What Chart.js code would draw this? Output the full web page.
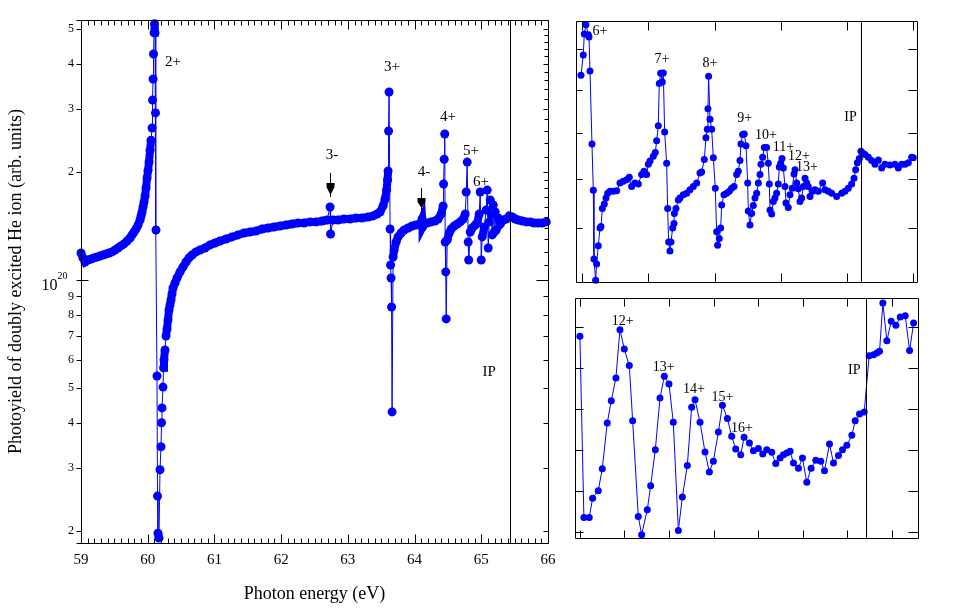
<!DOCTYPE html>
<html>
<head>
<meta charset="utf-8">
<script src="https://cdn.jsdelivr.net/npm/chart.js@4.4.1/dist/chart.umd.min.js"></script>
<style>
body { margin: 0; background: #fff; width: 958px; height: 609px; position: relative; overflow: hidden; }
canvas { position: absolute; }
</style>
</head>
<body>
<canvas id="main" width="570" height="609" style="left:0px;top:0px"></canvas>
<canvas id="upper" width="361" height="281" style="left:566px;top:11px"></canvas>
<canvas id="lower" width="363" height="260" style="left:565px;top:288px"></canvas>
<script>
// main panel: photon energy (eV) vs yield (units of 1e20)
const mainEnergy = [
  59.000,59.030,59.060,59.105,59.150,59.195,59.240,59.285,59.330,59.375,
  59.420,59.465,59.510,59.555,59.600,59.645,59.690,59.735,59.765,59.795,
  59.825,59.855,59.885,59.900,59.915,59.930,59.945,59.960,59.975,59.990,
  60.005,60.020,60.035,60.050,60.065,60.072,60.080,60.087,60.095,60.102,
  60.110,60.117,60.124,60.139,60.147,60.154,60.169,60.184,60.199,60.207,
  60.214,60.229,60.237,60.244,60.259,60.274,60.289,60.304,60.319,60.334,
  60.349,60.364,60.379,60.409,60.439,60.484,60.529,60.574,60.619,60.664,
  60.724,60.784,60.859,60.934,61.009,61.084,61.174,61.264,61.354,61.444,
  61.534,61.624,61.714,61.804,61.894,61.984,62.074,62.164,62.254,62.344,
  62.434,62.524,62.614,62.689,62.733,62.741,62.779,62.854,62.943,63.033,
  63.123,63.213,63.303,63.378,63.438,63.483,63.528,63.558,63.580,63.595,
  63.603,63.610,63.618,63.633,63.640,63.648,63.655,63.663,63.678,63.693,
  63.723,63.753,63.798,63.843,63.903,63.963,64.023,64.083,64.113,64.120,
  64.143,64.188,64.248,64.308,64.353,64.398,64.428,64.435,64.444,64.452,
  64.459,64.467,64.474,64.489,64.519,64.549,64.594,64.639,64.684,64.729,
  64.759,64.774,64.789,64.804,64.811,64.834,64.864,64.909,64.939,64.969,
  64.984,64.999,65.014,65.044,65.074,65.089,65.104,65.119,65.134,65.149,
  65.164,65.179,65.194,65.209,65.224,65.254,65.284,65.329,65.374,65.419,
  65.464,65.509,65.554,65.614,65.674,65.734,65.794,65.854,65.914,65.974
];
const mainYield = [
  1.189,1.152,1.122,1.137,1.144,1.152,1.159,1.166,1.174,1.181,
  1.189,1.197,1.212,1.228,1.244,1.260,1.284,1.309,1.335,1.360,
  1.387,1.423,1.469,1.508,1.547,1.597,1.649,1.714,1.805,1.924,
  2.02,2.132,2.30,2.45,2.65,3.17,3.63,4.26,4.88,5.17,
  4.88,2.92,1.378,0.540,0.250,0.197,0.191,0.296,0.343,0.400,
  0.440,0.503,0.569,0.599,0.638,0.698,0.730,0.774,0.825,0.852,
  0.880,0.914,0.950,0.981,1.013,1.053,1.087,1.122,1.152,1.174,
  1.197,1.212,1.228,1.252,1.268,1.284,1.301,1.318,1.335,1.352,
  1.360,1.369,1.387,1.396,1.405,1.414,1.423,1.432,1.441,1.441,
  1.451,1.451,1.460,1.469,1.597,1.343,1.469,1.469,1.479,1.479,
  1.488,1.488,1.498,1.508,1.527,1.547,1.608,1.681,1.780,1.900,
  2.012,2.60,3.34,1.387,1.101,1.013,0.841,0.429,1.159,1.212,
  1.276,1.318,1.352,1.378,1.396,1.414,1.423,1.432,1.479,1.405,
  1.432,1.441,1.451,1.460,1.479,1.527,1.608,1.851,2.17,2.55,
  1.276,1.053,0.779,1.292,1.352,1.387,1.414,1.432,1.451,1.479,
  1.527,1.758,2.13,1.276,1.137,1.360,1.396,1.423,1.441,1.527,
  1.758,1.137,1.318,1.405,1.567,1.780,1.228,1.451,1.670,1.527,
  1.335,1.618,1.360,1.547,1.378,1.488,1.432,1.469,1.479,1.508,
  1.498,1.479,1.469,1.460,1.451,1.451,1.441,1.441,1.441,1.451
];

// upper right inset (6+ ... 13+)
const upperEnergy = [
  64.9985,65.0020,65.0035,65.0060,65.0095,65.0106,65.0121,65.0151,65.0171,65.0181,
  65.0206,65.0221,65.0246,65.0272,65.0287,65.0307,65.0337,65.0362,65.0387,65.0422,
  65.0473,65.0523,65.0573,65.0623,65.0674,65.0714,65.0749,65.0799,65.0850,65.0900,
  65.0935,65.0975,65.1001,65.1026,65.1076,65.1106,65.1126,65.1151,65.1166,65.1187,
  65.1212,65.1227,65.1247,65.1277,65.1292,65.1307,65.1327,65.1342,65.1368,65.1388,
  65.1393,65.1418,65.1453,65.1478,65.1528,65.1579,65.1629,65.1679,65.1730,65.1780,
  65.1805,65.1845,65.1870,65.1890,65.1900,65.1910,65.1931,65.1956,65.1981,65.2011,
  65.2031,65.2046,65.2071,65.2092,65.2107,65.2142,65.2182,65.2222,65.2257,65.2293,
  65.2333,65.2358,65.2383,65.2398,65.2423,65.2448,65.2474,65.2499,65.2509,65.2534,
  65.2559,65.2584,65.2609,65.2635,65.2660,65.2685,65.2700,65.2725,65.2750,65.2785,
  65.2810,65.2826,65.2836,65.2861,65.2886,65.2911,65.2936,65.2961,65.2976,65.2997,
  65.3017,65.3037,65.3062,65.3077,65.3112,65.3137,65.3172,65.3198,65.3213,65.3238,
  65.3263,65.3288,65.3313,65.3338,65.3364,65.3389,65.3414,65.3439,65.3479,65.3514,
  65.3565,65.3630,65.3665,65.3715,65.3766,65.3841,65.3917,65.3967,65.4017,65.4067,
  65.4103,65.4128,65.4153,65.4183,65.4208,65.4233,65.4268,65.4319,65.4369,65.4419,
  65.4470,65.4520,65.4570,65.4646,65.4721,65.4771,65.4822,65.4872,65.4922,65.4972,
  65.4997
];
const upperYield = [
  1.635,1.686,1.740,1.764,1.738,1.732,1.646,1.475,1.376,1.241,
  1.202,1.232,1.266,1.300,1.303,1.339,1.348,1.360,1.370,1.374,
  1.374,1.375,1.391,1.395,1.398,1.403,1.384,1.391,1.389,1.409,
  1.416,1.409,1.431,1.438,1.448,1.456,1.482,1.516,1.615,1.640,
  1.619,1.641,1.502,1.433,1.339,1.273,1.256,1.273,1.300,1.309,
  1.329,1.339,1.356,1.360,1.367,1.370,1.377,1.384,1.391,1.412,
  1.414,1.441,1.489,1.508,1.555,1.633,1.531,1.508,1.445,1.380,
  1.293,1.267,1.280,1.300,1.346,1.367,1.370,1.374,1.380,1.384,
  1.409,1.416,1.439,1.475,1.496,1.497,1.471,1.391,1.334,1.306,
  1.329,1.345,1.360,1.370,1.391,1.409,1.431,1.446,1.467,1.467,
  1.433,1.389,1.336,1.328,1.353,1.360,1.370,1.389,1.425,1.433,
  1.443,1.423,1.384,1.350,1.341,1.367,1.380,1.410,1.419,1.391,
  1.379,1.353,1.360,1.384,1.401,1.391,1.384,1.363,1.374,1.377,
  1.374,1.391,1.377,1.374,1.370,1.363,1.370,1.374,1.380,1.389,
  1.401,1.419,1.434,1.443,1.459,1.455,1.452,1.446,1.439,1.431,
  1.440,1.423,1.431,1.429,1.431,1.423,1.431,1.431,1.434,1.446,
  1.445
];

// lower right inset (12+ ... 16+)
const lowerEnergy = [
  65.32000,65.32090,65.32210,65.32285,65.32412,65.32502,65.32614,65.32704,65.32809,65.32899,
  65.32996,65.33109,65.33184,65.33311,65.33386,65.33513,65.33588,65.33693,65.33798,65.33895,
  65.34000,65.34097,65.34210,65.34300,65.34412,65.34509,65.34584,65.34697,65.34809,65.34906,
  65.34996,65.35109,65.35199,65.35311,65.35408,65.35498,65.35610,65.35685,65.35805,65.35895,
  65.36007,65.36105,65.36195,65.36307,65.36397,65.36494,65.36569,65.36644,65.36719,65.36794,
  65.36906,65.36996,65.37094,65.37191,65.37296,65.37408,65.37491,65.37603,65.37693,65.37805,
  65.37895,65.37993,65.38105,65.38180,65.38277,65.38382,65.38494,65.38592,65.38667,
  65.38727,65.38801,65.38891,65.38989,65.39094,65.39191,65.39303,65.39401,65.39491
];
const lowerYield = [
  1.4555,1.3673,1.3673,1.3767,1.3803,1.3910,1.4133,1.4241,1.4352,1.4587,
  1.4493,1.4412,1.4144,1.3678,1.3589,1.3711,1.3827,1.4003,1.4254,1.4360,
  1.4322,1.4136,1.3610,1.3772,1.3926,1.4209,1.4246,1.4136,1.3991,1.3894,
  1.3946,1.4089,1.4219,1.4155,1.4068,1.4006,1.3978,1.4063,1.4035,1.3998,
  1.4008,1.3982,1.4003,1.3990,1.3935,1.3962,1.3978,1.3987,1.3995,1.3938,
  1.3913,1.3962,1.3844,1.3913,1.3951,1.3946,1.3900,1.4030,1.3938,1.3974,
  1.4003,1.4024,1.4073,1.4144,1.4176,1.4186,1.4460,1.4465,1.4473,
  1.4482,1.4717,1.4533,1.4628,1.4608,1.4649,1.4655,1.4485,1.4619
];

// tick values
const mainXTicks = [59, 60, 61, 62, 63, 64, 65, 66];
const mainYTicks = [0.2, 0.3, 0.4, 0.5, 0.6, 0.7, 0.8, 0.9, 1, 2, 3, 4, 5];
const mainYMinor = [1.1, 1.2, 1.3, 1.4, 1.5, 1.6, 1.7, 1.8, 1.9, 2.2, 2.4, 2.6, 2.8, 3.2, 3.4, 3.6, 3.8, 4.2, 4.4, 4.6, 4.8];
const upperXTicks = [65.0, 65.1, 65.2, 65.3, 65.4, 65.5];
const upperYTicks = [1.3, 1.4, 1.5, 1.6, 1.7];
const lowerXTicks = [65.32, 65.33, 65.34, 65.35, 65.36, 65.37, 65.38, 65.39];
const lowerYTicks = [1.36, 1.38, 1.40, 1.42, 1.44, 1.46];

// labels in data coordinates
const mainNotes = [['2+', 60.379, 4.05], ['3+', 63.663, 3.92], ['3-', 62.763, 2.23], ['4-', 64.142, 2.0],
  ['4+', 64.502, 2.845], ['5+', 64.847, 2.288], ['6+', 64.997, 1.875], ['IP', 65.117, 0.554]];
const mainArrows = [[62.733, 1.987, 1.863, 1.725, 1.703], [64.097, 1.805, 1.692, 1.587, 1.547]];
const upperNotes = [['6+', 65.0271, 1.746], ['7+', 65.1207, 1.676], ['8+', 65.1931, 1.666], ['9+', 65.2454, 1.532],
  ['10+', 65.2775, 1.495], ['11+', 65.3039, 1.468], ['12+', 65.3273, 1.447], ['13+', 65.3394, 1.424], ['IP', 65.405, 1.536]];
const lowerNotes = [['12+', 65.3296, 1.4626], ['13+', 65.3388, 1.4406], ['14+', 65.3456, 1.4296],
  ['15+', 65.3520, 1.4257], ['16+', 65.3564, 1.4107], ['IP', 65.3816, 1.4390]];

const blue = 'rgb(0,0,255)';
const serif = '"Liberation Serif", "Times New Roman", serif';

// frame, inward ticks, IP line, arrows and text labels
const framePlugin = {
  id: 'frame',
  afterDatasetsDraw(chart, args, o) {
    const ctx = chart.ctx, a = chart.chartArea;
    const sx = chart.scales.x, sy = chart.scales.y;
    const px = v => Math.round(sx.getPixelForValue(v)) + 0.5;
    const py = v => Math.round(sy.getPixelForValue(v)) + 0.5;
    const L = Math.round(a.left) + 0.5, R = Math.round(a.right) + 0.5;
    const T = Math.round(a.top) + 0.5, B = Math.round(a.bottom) + 0.5;
    const ext = o.extend || 0;
    ctx.save();
    ctx.strokeStyle = '#000';
    ctx.lineWidth = 1;
    ctx.beginPath();
    ctx.moveTo(L - ext, T); ctx.lineTo(R, T);
    ctx.moveTo(L - ext, B); ctx.lineTo(R, B);
    ctx.moveTo(L, T); ctx.lineTo(L, B);
    ctx.moveTo(R, T); ctx.lineTo(R, B);
    o.xTicks.forEach(([v, len]) => {
      const x = px(v);
      ctx.moveTo(x, B); ctx.lineTo(x, B - len);
      ctx.moveTo(x, T); ctx.lineTo(x, T + len);
    });
    o.leftTicks.forEach(([v, from, to]) => {
      const y = py(v);
      ctx.moveTo(L + from, y); ctx.lineTo(L + to, y);
    });
    o.rightTicks.forEach(([v, len]) => {
      const y = py(v);
      ctx.moveTo(R, y); ctx.lineTo(R - len, y);
    });
    const ip = px(o.ip);
    ctx.moveTo(ip, T); ctx.lineTo(ip, B);
    ctx.stroke();

    ctx.fillStyle = '#000';
    (o.arrows || []).forEach(([v, y0, y1, y2, y3]) => {
      const x = px(v);
      const p0 = sy.getPixelForValue(y0), p1 = sy.getPixelForValue(y1);
      const p2 = sy.getPixelForValue(y2), p3 = sy.getPixelForValue(y3);
      ctx.beginPath(); ctx.moveTo(x, p0); ctx.lineTo(x, p3); ctx.stroke();
      ctx.beginPath();
      ctx.moveTo(x - 4, p1); ctx.lineTo(x + 4, p1); ctx.lineTo(x + 4, p1 + 4);
      ctx.lineTo(x, p2); ctx.lineTo(x - 4, p1 + 4); ctx.closePath(); ctx.fill();
    });

    ctx.textAlign = 'center';
    ctx.textBaseline = 'middle';
    ctx.font = o.noteSize + 'px ' + serif;
    o.notes.forEach(([t, v, w]) => {
      ctx.fillText(t, sx.getPixelForValue(v), sy.getPixelForValue(w));
    });

    if (o.power) { // the "10^20" label on the main y axis
      const y = sy.getPixelForValue(1);
      ctx.textBaseline = 'alphabetic';
      ctx.textAlign = 'right';
      ctx.font = '16px ' + serif;
      ctx.fillText('10', L - 24, y + 10);
      ctx.textAlign = 'left';
      ctx.font = '10px ' + serif;
      ctx.fillText('20', L - 24, y - 1);
    }
    ctx.restore();
  }
};

function series(xs, ys, r, band) {
  const ds = {
    data: xs.map((x, i) => ({ x: x, y: ys[i] })),
    borderColor: blue,
    backgroundColor: blue,
    borderWidth: 1,
    pointRadius: r,
    pointHoverRadius: r,
    pointBorderWidth: 0,
    tension: 0,
    clip: false
  };
  if (band) {
    // closely spaced points read as a solid band of overlapping markers
    ds.segment = {
      borderWidth: c => Math.hypot(c.p1.x - c.p0.x, c.p1.y - c.p0.y) < 12 ? band : 1
    };
  }
  return ds;
}

const mainXMinor = [];
for (let i = 591; i < 660; i++) if (i % 10) mainXMinor.push(i / 10);

new Chart(document.getElementById('main'), {
  type: 'line',
  data: { datasets: [series(mainEnergy, mainYield, 4.5, 8)] },
  plugins: [framePlugin],
  options: {
    responsive: false,
    animation: false,
    devicePixelRatio: 1,
    parsing: false,
    layout: { padding: { left: 0, top: 20, right: 22, bottom: 0 } },
    plugins: {
      legend: { display: false },
      tooltip: { enabled: false },
      frame: {
        extend: 5,
        ip: 65.432,
        noteSize: 15,
        power: true,
        notes: mainNotes,
        arrows: mainArrows,
        xTicks: mainXTicks.map(v => [v, 9]).concat(mainXMinor.map(v => [v, 5])),
        leftTicks: mainYTicks.map(v => v === 1 ? [v, -5, 7] : [v, -5, 0]),
        rightTicks: mainYTicks.map(v => [v, v === 1 ? 12 : 5]).concat(mainYMinor.map(v => [v, 4]))
      }
    },
    scales: {
      x: {
        type: 'linear',
        min: 59,
        max: 66,
        afterBuildTicks: s => { s.ticks = mainXTicks.map(v => ({ value: v })); },
        afterFit: s => { s.height = 66; },
        grid: { display: false, drawTicks: false },
        border: { display: false },
        ticks: {
          padding: 8,
          autoSkip: false,
          maxRotation: 0,
          color: '#000',
          font: { family: serif, size: 15 },
          callback: v => String(v)
        },
        title: {
          display: true,
          text: 'Photon energy (eV)',
          color: '#000',
          font: { family: serif, size: 18 },
          padding: { top: 0, bottom: 4 }
        }
      },
      y: {
        type: 'logarithmic',
        min: 0.185,
        max: 5.3,
        afterBuildTicks: s => { s.ticks = mainYTicks.map(v => ({ value: v })); },
        afterFit: s => { s.width = 81; },
        grid: { display: false, drawTicks: false },
        border: { display: false },
        ticks: {
          padding: 7,
          autoSkip: false,
          color: '#000',
          font: { family: serif, size: 12 },
          callback: v => v === 1 ? '' : (v < 1 ? String(Math.round(v * 10)) : String(v))
        },
        title: {
          display: true,
          text: 'Photoyield of doubly excited He ion (arb. units)',
          color: '#000',
          font: { family: serif, size: 18 },
          padding: { top: 5, bottom: 0 }
        }
      }
    }
  }
});

function inset(id, xs, ys, xRange, yRange, yType, xTicks, yTicks, ip, notes, leftLen, rightLen, xLen) {
  return new Chart(document.getElementById(id), {
    type: 'line',
    data: { datasets: [series(xs, ys, 3.5, 0)] },
    plugins: [framePlugin],
    options: {
      responsive: false,
      animation: false,
      devicePixelRatio: 1,
      parsing: false,
      layout: { padding: 10 },
      plugins: {
        legend: { display: false },
        tooltip: { enabled: false },
        frame: {
          ip: ip,
          noteSize: 14,
          notes: notes,
          xTicks: xTicks.map(v => [v, xLen]),
          leftTicks: yTicks.map(v => [v, 0, leftLen]),
          rightTicks: yTicks.map(v => [v, rightLen])
        }
      },
      scales: {
        x: { type: 'linear', display: false, min: xRange[0], max: xRange[1] },
        y: { type: yType, display: false, min: yRange[0], max: yRange[1] }
      }
    }
  });
}

inset('upper', upperEnergy, upperYield, [64.991, 65.5053], [1.199, 1.774], 'logarithmic',
  upperXTicks, upperYTicks, 65.4208, upperNotes, 6, 9, 9);
inset('lower', lowerEnergy, lowerYield, [65.3189, 65.3959], [1.3573, 1.4741], 'linear',
  lowerXTicks, lowerYTicks, 65.3843, lowerNotes, 8, 10, 8);
</script>
</body>
</html>
